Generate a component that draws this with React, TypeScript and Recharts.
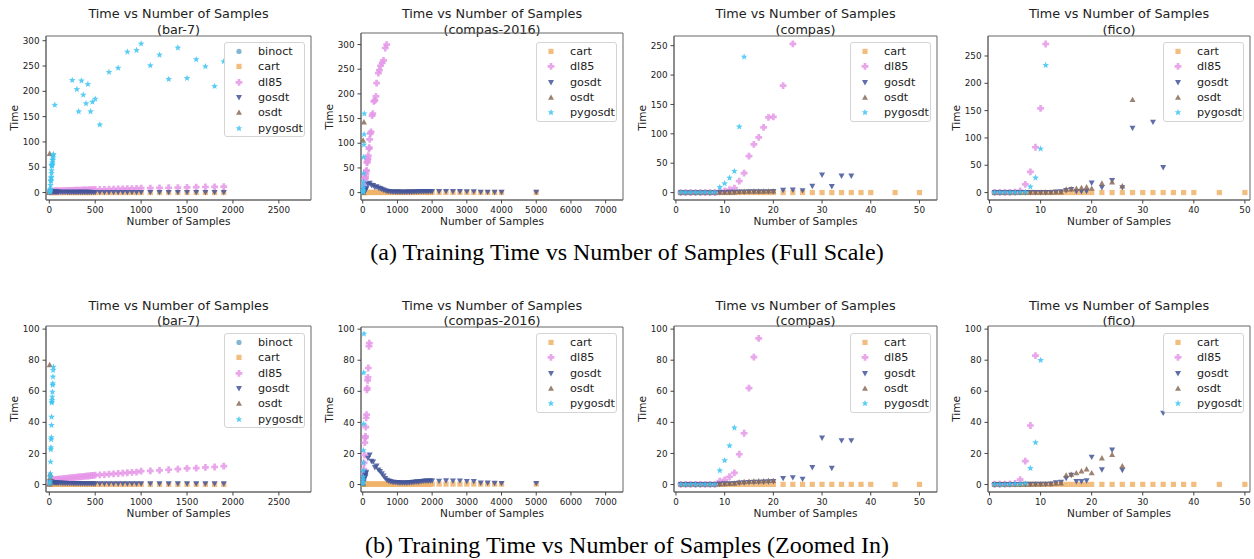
import React from 'react'
import { ScatterChart, Scatter, XAxis, YAxis, ReferenceArea } from 'recharts'

const SANS = '"DejaVu Sans", Verdana, sans-serif'
const SERIF = '"Liberation Serif", "Times New Roman", serif'

type Kind = 'binoct' | 'cart' | 'dl85' | 'gosdt' | 'osdt' | 'pygosdt'

const COLOR: Record<Kind, string> = {
  binoct: '#6fa9cc',
  cart: '#f0b36a',
  dl85: '#e597e8',
  gosdt: '#43559a',
  osdt: '#8c6c58',
  pygosdt: '#3ec4f2',
}

// ---- bar-7 ----
const bar7N = [10, 20, 30, 40, 50, 60, 70, 80, 90, 100, 120, 140, 160, 180, 200, 220, 240, 260, 280, 300, 320, 340, 360, 380, 400, 420, 440, 460, 480, 500, 550, 600, 650, 700, 750, 800, 850, 900, 950, 1000, 1100, 1200, 1300, 1400, 1500, 1600, 1700, 1800, 1900]
const bar7Cart = [0.2, 0.2, 0.2, 0.1, 0.1, 0.1, 0.1, 0.1, 0.1, 0.1, 0.1, 0.1, 0.1, 0.1, 0.1, 0.1, 0.1, 0.1, 0.1, 0.1, 0.1, 0.1, 0.1, 0.1, 0.1, 0.1, 0.1, 0.1, 0.1, 0.1, 0.1, 0.1, 0.1, 0.1, 0.1, 0.1, 0.1, 0.1, 0.1, 0.1, 0.1, 0.1, 0.1, 0.1, 0.1, 0.1, 0.1, 0.1, 0.1]
const bar7Dl85 = [1.2, 1.8, 2.3, 2.6, 2.8, 3.0, 3.1, 3.2, 3.3, 3.4, 3.6, 3.7, 3.9, 4.0, 4.1, 4.3, 4.4, 4.5, 4.6, 4.8, 4.9, 5.0, 5.1, 5.2, 5.4, 5.5, 5.6, 5.8, 5.9, 6.0, 6.2, 6.4, 6.7, 6.9, 7.1, 7.3, 7.6, 7.8, 8.0, 8.6, 8.8, 9.1, 9.5, 9.9, 10.4, 10.6, 11.0, 11.3, 11.8]
const bar7Gosdt = [1.5, 1.8, 1.6, 1.4, 1.3, 1.2, 1.2, 1.1, 1.1, 1.0, 1.0, 0.9, 0.9, 0.9, 0.8, 0.8, 0.8, 0.7, 0.7, 0.7, 0.7, 0.6, 0.6, 0.6, 0.6, 0.6, 0.6, 0.5, 0.5, 0.5, 0.5, 0.5, 0.5, 0.5, 0.5, 0.5, 0.5, 0.5, 0.5, 0.5, 0.5, 0.5, 0.5, 0.5, 0.5, 0.5, 0.5, 0.5, 0.5]
const bar7BinoctN = [10, 20, 30, 40]
const bar7Binoct = [1, 2.5, 4, 1.5]
const bar7OsdtN = [2, 4, 6, 8, 10, 12]
const bar7Osdt = [0.2, 77, 0.6, 4.5, 6.8, 1.5]
const bar7PygN = [5, 8, 10, 12, 14, 16, 18, 20, 22, 24, 25, 26, 28, 30, 32, 34, 36, 38, 40, 42, 45, 60, 250, 300, 320, 350, 370, 400, 420, 450, 470, 500, 550, 650, 750, 850, 950, 1000, 1100, 1200, 1300, 1400, 1500, 1600, 1700, 1800, 1900]
const bar7Pyg = [0.5, 2, 5, 7, 14.6, 22.5, 23.8, 29, 30.3, 38.2, 43.5, 52.6, 53.2, 54.3, 56.4, 59.6, 64, 65, 69.3, 73.6, 75.7, 173, 222, 204, 160, 221, 193, 176, 214, 160, 179, 185, 134, 238, 246, 278, 281, 294, 251, 272, 224, 286, 226, 263, 249, 210, 259]

// ---- compas-2016 ----
const c16N = [10, 20, 30, 40, 50, 60, 70, 80, 90, 100, 150, 200, 250, 300, 350, 400, 450, 500, 550, 600, 650, 700, 750, 800, 850, 900, 950, 1000, 1050, 1100, 1150, 1200, 1250, 1300, 1350, 1400, 1450, 1500, 1550, 1600, 1650, 1700, 1750, 1800, 1850, 1900, 1950, 2000, 2200, 2400, 2600, 2800, 3000, 3200, 3400, 3600, 3800, 4000, 5000]
const c16Cart = [0.3, 0.3, 0.3, 0.3, 0.3, 0.3, 0.3, 0.3, 0.3, 0.3, 0.3, 0.3, 0.3, 0.3, 0.3, 0.3, 0.3, 0.3, 0.3, 0.3, 0.3, 0.3, 0.3, 0.3, 0.3, 0.3, 0.3, 0.3, 0.3, 0.3, 0.3, 0.3, 0.3, 0.3, 0.3, 0.3, 0.3, 0.3, 0.3, 0.3, 0.3, 0.3, 0.3, 0.3, 0.3, 0.3, 0.3, 0.3, 0.3, 0.3, 0.3, 0.3, 0.3, 0.3, 0.3, 0.3, 0.3, 0.3, 0.3]
const c16Gosdt = [1, 2, 3, 4, 4.5, 5.5, 6, 5, 7, 8, 17, 19, 15, 14.5, 11, 12, 9.5, 8.5, 7, 5.5, 4, 2.8, 2.3, 2, 1.6, 1.5, 1.4, 1.3, 1.2, 1.2, 1.1, 1.1, 1.2, 1.2, 1.3, 1.3, 1.5, 1.6, 1.8, 1.7, 2.0, 2.1, 2.2, 2.3, 2.4, 2.2, 2.5, 2.4, 2.2, 2.5, 2.3, 2.4, 2.1, 2.0, 1.0, 1.0, 0.9, 0.8, 0.8]
const c16Dl85N = [10, 20, 30, 40, 50, 60, 70, 80, 90, 100, 110, 120, 130, 140, 150, 160, 180, 190, 200, 220, 240, 270, 290, 320, 350, 380, 400, 450, 480, 510, 560, 600, 650, 690]
const c16Dl85 = [3, 7, 10, 14, 19, 27, 30, 31, 37, 43, 45, 61, 62, 67, 69, 75, 89, 91, 108, 120, 123, 156, 160, 185, 187, 195, 222, 242, 248, 257, 263, 268, 293, 300]
const c16PygN = [5, 8, 10, 12, 15, 17, 20, 25, 28, 35, 40, 45]
const c16Pyg = [0.5, 1.5, 3, 5, 9, 14, 22, 39, 72, 97, 118, 160]
const c16OsdtN = [3, 5, 8, 10, 35]
const c16Osdt = [0.3, 0.6, 1, 106, 143]

// ---- compas ----
const compasN = [1, 2, 3, 4, 5, 6, 7, 8, 9, 10, 11, 12, 13, 14, 15, 16, 17, 18, 19, 20, 22, 24, 26, 28, 30, 32, 34, 36, 38, 40, 45, 50]
const compasCart = [0.1, 0.1, 0.1, 0.1, 0.1, 0.1, 0.1, 0.1, 0.1, 0.1, 0.1, 0.1, 0.1, 0.1, 0.1, 0.1, 0.1, 0.1, 0.1, 0.1, 0.1, 0.1, 0.1, 0.1, 0.1, 0.1, 0.1, 0.1, 0.1, 0.1, 0.1, 0.1]
const compasDl85N = [1, 2, 3, 4, 5, 6, 7, 8, 9, 10, 11, 12, 13, 14, 15, 16, 17, 18, 19, 20, 22, 24]
const compasDl85 = [0.1, 0.1, 0.1, 0.1, 0.1, 0.1, 0.1, 0.1, 2.2, 3, 5, 7.5, 19.5, 33, 62, 82, 94, 111, 128, 129, 182, 253]
const compasGosdtN = [1, 2, 3, 4, 5, 6, 7, 8, 9, 10, 11, 12, 13, 14, 15, 16, 17, 18, 19, 20, 22, 24, 26, 28, 30, 32, 34, 36]
const compasGosdt = [0.1, 0.1, 0.1, 0.1, 0.1, 0.1, 0.1, 0.1, 0.4, 0.5, 0.6, 0.8, 1, 1.2, 1.4, 1.5, 1.6, 1.7, 1.8, 2, 4, 4.5, 3.5, 11, 30, 10.5, 28.3, 28.3]
const compasOsdtN = [1, 2, 3, 4, 5, 6, 7, 8, 9, 10, 11, 12, 13, 14, 15, 16, 17, 18, 19, 20]
const compasOsdt = [0.1, 0.1, 0.1, 0.1, 0.1, 0.1, 0.1, 0.1, 0.3, 0.5, 0.6, 0.8, 1.5, 1.8, 2, 2.1, 2.2, 2.3, 2.5, 2.5]
const compasPygN = [1, 2, 3, 4, 5, 6, 7, 8, 9, 10, 11, 12, 13, 14]
const compasPyg = [0.1, 0.1, 0.1, 0.1, 0.1, 0.1, 0.1, 0.1, 9, 15.5, 25, 36.5, 112, 231]

// ---- fico ----
const ficoN = [1, 2, 3, 4, 5, 6, 7, 8, 9, 10, 11, 12, 13, 14, 15, 16, 17, 18, 19, 20, 22, 24, 26, 28, 30, 32, 34, 36, 38, 40, 45, 50]
const ficoCart = [0.1, 0.1, 0.1, 0.1, 0.1, 0.1, 0.1, 0.1, 0.1, 0.1, 0.1, 0.1, 0.1, 0.1, 0.1, 0.1, 0.1, 0.1, 0.1, 0.1, 0.1, 0.1, 0.1, 0.1, 0.1, 0.1, 0.1, 0.1, 0.1, 0.1, 0.1, 0.1]
const ficoDl85N = [1, 2, 3, 4, 5, 6, 7, 8, 9, 10, 11]
const ficoDl85 = [0.2, 0.2, 0.3, 0.4, 0.8, 3.2, 15, 38, 83, 154, 272]
const ficoGosdtN = [1, 2, 3, 4, 5, 6, 7, 8, 9, 10, 11, 12, 13, 14, 15, 16, 17, 18, 19, 20, 22, 24, 26, 28, 32, 34]
const ficoGosdt = [0.1, 0.1, 0.1, 0.1, 0.1, 0.1, 0.2, 0.2, 0.2, 0.3, 0.3, 0.4, 1.2, 1.5, 4, 6, 2, 2, 2.5, 17.7, 9.5, 22.3, 9.2, 118, 129, 46]
const ficoOsdtN = [1, 2, 3, 4, 5, 6, 7, 8, 9, 10, 11, 12, 13, 14, 15, 16, 17, 18, 19, 20, 22, 24, 26, 28]
const ficoOsdt = [0.1, 0.1, 0.1, 0.1, 0.1, 0.1, 0.2, 0.2, 0.3, 0.3, 0.4, 0.5, 0.8, 1, 6, 6.5, 7.5, 8.7, 10, 7.5, 17, 19.3, 12, 170]
const ficoPygN = [1, 2, 3, 4, 5, 6, 7, 8, 9, 10, 11]
const ficoPyg = [0.1, 0.1, 0.1, 0.2, 0.3, 0.4, 0.6, 10.5, 27, 80, 233]

const zip = (xs: number[], ys: number[]) => xs.map((x, i) => ({ x, y: ys[i] }))

type Series = { kind: Kind; data: { x: number; y: number }[] }

const bar7Series: Series[] = [
  { kind: 'binoct', data: zip(bar7BinoctN, bar7Binoct) },
  { kind: 'cart', data: zip(bar7N, bar7Cart) },
  { kind: 'dl85', data: zip(bar7N, bar7Dl85) },
  { kind: 'gosdt', data: zip(bar7N, bar7Gosdt) },
  { kind: 'osdt', data: zip(bar7OsdtN, bar7Osdt) },
  { kind: 'pygosdt', data: zip(bar7PygN, bar7Pyg) },
]
const c16Series: Series[] = [
  { kind: 'cart', data: zip(c16N, c16Cart) },
  { kind: 'dl85', data: zip(c16Dl85N, c16Dl85) },
  { kind: 'gosdt', data: zip(c16N, c16Gosdt) },
  { kind: 'osdt', data: zip(c16OsdtN, c16Osdt) },
  { kind: 'pygosdt', data: zip(c16PygN, c16Pyg) },
]
const compasSeries: Series[] = [
  { kind: 'cart', data: zip(compasN, compasCart) },
  { kind: 'dl85', data: zip(compasDl85N, compasDl85) },
  { kind: 'gosdt', data: zip(compasGosdtN, compasGosdt) },
  { kind: 'osdt', data: zip(compasOsdtN, compasOsdt) },
  { kind: 'pygosdt', data: zip(compasPygN, compasPyg) },
]
const ficoSeries: Series[] = [
  { kind: 'cart', data: zip(ficoN, ficoCart) },
  { kind: 'dl85', data: zip(ficoDl85N, ficoDl85) },
  { kind: 'gosdt', data: zip(ficoGosdtN, ficoGosdt) },
  { kind: 'osdt', data: zip(ficoOsdtN, ficoOsdt) },
  { kind: 'pygosdt', data: zip(ficoPygN, ficoPyg) },
]

function Marker({ kind, cx, cy }: { kind: Kind; cx: number; cy: number }) {
  const fill = COLOR[kind]
  const op = 0.85
  if (kind === 'binoct') return <circle cx={cx} cy={cy} r={2.6} fill={fill} fillOpacity={op} />
  if (kind === 'cart') return <rect x={cx - 2.6} y={cy - 2.6} width={5.2} height={5.2} fill={fill} fillOpacity={op} />
  if (kind === 'dl85') {
    const a = 3.4, b = 1.35
    const d = `M${cx - b},${cy - a}H${cx + b}V${cy - b}H${cx + a}V${cy + b}H${cx + b}V${cy + a}H${cx - b}V${cy + b}H${cx - a}V${cy - b}H${cx - b}Z`
    return <path d={d} fill={fill} fillOpacity={op} />
  }
  if (kind === 'gosdt') return <path d={`M${cx - 3},${cy - 2.4}L${cx + 3},${cy - 2.4}L${cx},${cy + 3}Z`} fill={fill} fillOpacity={op} />
  if (kind === 'osdt') return <path d={`M${cx - 3},${cy + 2.4}L${cx + 3},${cy + 2.4}L${cx},${cy - 3}Z`} fill={fill} fillOpacity={op} />
  // star
  let d = ''
  for (let i = 0; i < 10; i++) {
    const r = i % 2 === 0 ? 3.5 : 1.5
    const ang = -Math.PI / 2 + (i * Math.PI) / 5
    d += `${i === 0 ? 'M' : 'L'}${cx + r * Math.cos(ang)},${cy + r * Math.sin(ang)}`
  }
  return <path d={d + 'Z'} fill={fill} fillOpacity={op} />
}

const YAXIS_W = 40
const XAXIS_H = 30
const M_TOP = 4
const M_RIGHT = 4

type PanelProps = {
  name: string
  series: Series[]
  x0: number
  x1: number
  y0: number
  y1: number
  titleY: number
  legendTop: number
  xDomain: [number, number]
  xTicks: number[]
  yDomain: [number, number]
  yTicks: number[]
}

const tickStyle = { fontSize: 8.8, fill: '#222', fontFamily: SANS }

function Panel(p: PanelProps) {
  const w = p.x1 - p.x0
  const h = p.y1 - p.y0
  const kinds = p.series.map((s) => s.kind)
  return (
    <>
      <div
        style={{
          position: 'absolute',
          left: p.x0 - 20,
          width: w + 40,
          top: p.titleY - 7.6,
          textAlign: 'center',
          fontFamily: SANS,
          fontSize: 12.8,
          lineHeight: '15.3px',
          color: '#222',
        }}
      >
        Time vs Number of Samples
        <br />({p.name})
      </div>
      <div style={{ position: 'absolute', left: p.x0 - YAXIS_W, top: p.y0 - M_TOP }}>
        <ScatterChart
          width={w + YAXIS_W + M_RIGHT}
          height={h + M_TOP + XAXIS_H}
          margin={{ top: M_TOP, right: M_RIGHT, bottom: 0, left: 0 }}
        >
          <XAxis
            type="number"
            dataKey="x"
            domain={p.xDomain}
            ticks={p.xTicks}
            interval={0}
            allowDataOverflow
            height={XAXIS_H}
            tick={tickStyle}
            tickSize={3.5}
            tickMargin={3}
            stroke="#666"
            tickLine={{ stroke: '#444' }}
          />
          <YAxis
            type="number"
            dataKey="y"
            domain={p.yDomain}
            ticks={p.yTicks}
            interval={0}
            allowDataOverflow
            width={YAXIS_W}
            tick={tickStyle}
            tickSize={3.5}
            tickMargin={3}
            stroke="#666"
            tickLine={{ stroke: '#444' }}
          />
          <ReferenceArea
            x1={p.xDomain[0]}
            x2={p.xDomain[1]}
            y1={p.yDomain[0]}
            y2={p.yDomain[1]}
            fill="none"
            stroke="#666"
            strokeWidth={1}
            ifOverflow="visible"
          />
          {p.series.map((s) => (
            <Scatter
              key={s.kind}
              name={s.kind}
              data={s.data}
              isAnimationActive={false}
              shape={(props: any) => <Marker kind={s.kind} cx={props.cx} cy={props.cy} />}
            />
          ))}
        </ScatterChart>
      </div>
      <div
        style={{
          position: 'absolute',
          left: p.x0,
          width: w,
          top: p.y1 + 14,
          textAlign: 'center',
          fontFamily: SANS,
          fontSize: 10.5,
          lineHeight: '14px',
          color: '#222',
        }}
      >
        Number of Samples
      </div>
      <div
        style={{
          position: 'absolute',
          left: p.x0 - 32 - 30,
          top: (p.y0 + p.y1) / 2 - 7,
          width: 60,
          height: 14,
          lineHeight: '14px',
          textAlign: 'center',
          transform: 'rotate(-90deg)',
          fontFamily: SANS,
          fontSize: 10.5,
          color: '#222',
        }}
      >
        Time
      </div>
      <div
        style={{
          position: 'absolute',
          left: p.x1 - 6 - 81,
          top: p.legendTop,
          width: 81,
          height: kinds.length * 15.3 + 3.5,
          boxSizing: 'border-box',
          border: '1px solid #d4d4d4',
          borderRadius: 3,
          background: 'rgba(255,255,255,0.85)',
          fontFamily: SANS,
          fontSize: 11.2,
          color: '#222',
        }}
      >
        {kinds.map((k, i) => (
          <div key={k} style={{ position: 'absolute', left: 0, top: 1 + i * 15.3, height: 15.3, width: '100%' }}>
            <svg width={30} height={15} style={{ position: 'absolute', left: 0, top: 0 }}>
              <Marker kind={k} cx={14} cy={7.4} />
            </svg>
            <span style={{ position: 'absolute', left: 33, top: 0, lineHeight: '15px' }}>{k}</span>
          </div>
        ))}
      </div>
    </>
  )
}

const cols = [
  { name: 'bar-7', series: bar7Series, x0: 46, x1: 311, xDomain: [-36, 2850] as [number, number], xTicks: [0, 500, 1000, 1500, 2000, 2500] },
  { name: 'compas-2016', series: c16Series, x0: 361, x1: 623, xDomain: [-50, 7500] as [number, number], xTicks: [0, 1000, 2000, 3000, 4000, 5000, 6000, 7000] },
  { name: 'compas', series: compasSeries, x0: 674, x1: 937, xDomain: [-0.4, 53.6] as [number, number], xTicks: [0, 10, 20, 30, 40, 50] },
  { name: 'fico', series: ficoSeries, x0: 988, x1: 1250, xDomain: [-0.3, 51] as [number, number], xTicks: [0, 10, 20, 30, 40, 50] },
]

const fullRow = [
  { y0: 36, y1: 200, yDomain: [-14.7, 309.3] as [number, number], yTicks: [0, 50, 100, 150, 200, 250, 300] },
  { y0: 33, y1: 200, yDomain: [-15, 323.4] as [number, number], yTicks: [0, 50, 100, 150, 200, 250, 300] },
  { y0: 36, y1: 200, yDomain: [-12.6, 266.5] as [number, number], yTicks: [0, 50, 100, 150, 200, 250] },
  { y0: 36, y1: 200, yDomain: [-13.6, 286.6] as [number, number], yTicks: [0, 50, 100, 150, 200, 250] },
]
const zoomRow = [
  { y0: 326, y1: 492, yDomain: [-4.8, 102] as [number, number], yTicks: [0, 20, 40, 60, 80, 100] },
  { y0: 327, y1: 492, yDomain: [-4.8, 101.4] as [number, number], yTicks: [0, 20, 40, 60, 80, 100] },
  { y0: 326, y1: 492, yDomain: [-4.8, 102] as [number, number], yTicks: [0, 20, 40, 60, 80, 100] },
  { y0: 326, y1: 492, yDomain: [-4.8, 102] as [number, number], yTicks: [0, 20, 40, 60, 80, 100] },
]

const captionStyle = (top: number): React.CSSProperties => ({
  position: 'absolute',
  left: 0,
  width: 1254,
  top,
  textAlign: 'center',
  fontFamily: SERIF,
  fontSize: 24,
  lineHeight: '28px',
  color: '#000',
})

export default function App() {
  return (
    <div style={{ position: 'absolute', left: 0, top: 0, width: 1254, height: 559, background: '#fff', overflow: 'hidden' }}>
      {cols.map((c, i) => (
        <Panel key={'a' + i} {...c} {...fullRow[i]} titleY={14} legendTop={42} />
      ))}
      {cols.map((c, i) => (
        <Panel key={'b' + i} {...c} {...zoomRow[i]} titleY={305.7} legendTop={333} />
      ))}
      <div style={captionStyle(238)}>(a) Training Time vs Number of Samples (Full Scale)</div>
      <div style={captionStyle(531)}>(b) Training Time vs Number of Samples (Zoomed In)</div>
    </div>
  )
}
